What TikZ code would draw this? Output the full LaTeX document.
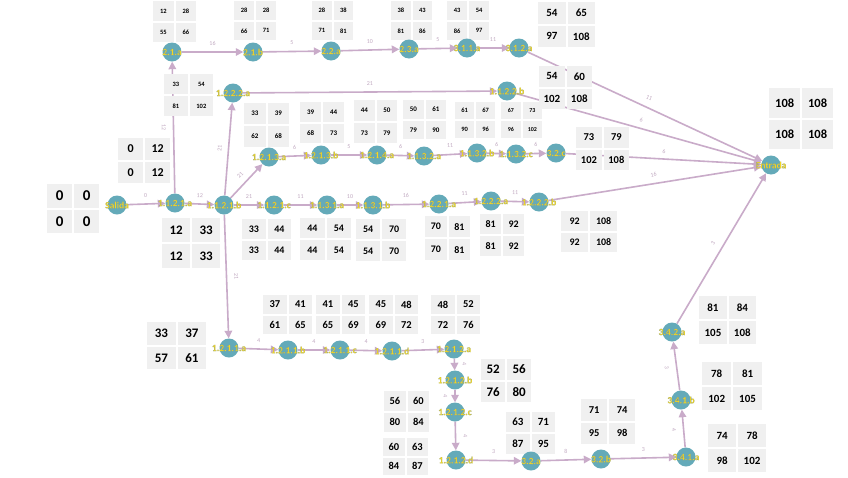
\documentclass[tikz,border=0pt]{standalone}
\usepackage{fontspec}
\setmainfont{Carlito}
\usetikzlibrary{arrows.meta,backgrounds}
\definecolor{teal1}{HTML}{64AAB9}
\definecolor{lbly}{HTML}{F4D824}
\definecolor{edgec}{HTML}{C9ABC9}
\definecolor{elc}{HTML}{C2AAC2}
\definecolor{cellc}{HTML}{F0F0F0}
\newcommand\outl[1]{\special{pdf:literal direct 2 Tr 0.04 w 0.45 0.56 0.58 RG}#1\special{pdf:literal direct 0 Tr}}
\tikzset{
 dot/.style={circle, fill=teal1, minimum size=19pt, inner sep=0pt},
 lbl/.style={text=lbly, font=\fontsize{9.5}{9.5}\selectfont\bfseries, inner sep=0pt},
 cellb/.style={fill=cellc, inner sep=0pt, anchor=north west, text=black},
 arr/.style={draw=edgec, line width=1.6pt, -{Triangle[length=7.5pt,width=7.5pt]}},
 el/.style={text=elc, font=\fontsize{6}{6}\selectfont, inner sep=1pt, sloped},
}
\newcommand\tb[9]{%
 \node[cellb, minimum width=#3pt, minimum height=#4pt, font=\fontsize{#5}{#5}\selectfont\bfseries] (#1a) at (#2) {#6};
 \node[cellb, minimum width=#3pt, minimum height=#4pt, font=\fontsize{#5}{#5}\selectfont\bfseries] (#1b) at ([xshift=1.5pt]#1a.north east) {#7};
 \node[cellb, minimum width=#3pt, minimum height=#4pt, font=\fontsize{#5}{#5}\selectfont\bfseries] (#1c) at ([yshift=-1.5pt]#1a.south west) {#8};
 \node[cellb, minimum width=#3pt, minimum height=#4pt, font=\fontsize{#5}{#5}\selectfont\bfseries] (#1d) at ([xshift=1.5pt]#1c.north east) {#9};
}
\newcommand\ev[3]{%
 \node[dot] (#1) at (#2) {};
 \node[lbl] (#1-l) at (#1.center) {\outl{#3}};
}
\begin{document}
\begin{tikzpicture}[x=1pt,y=-1pt]
\useasboundingbox (0,0) rectangle (848,477);

% tables
\tb{tS}{47,184}{25}{23.5}{15}{0}{0}{0}{0}
\tb{tA}{118,138}{25}{21.5}{12}{0}{12}{0}{12}
\tb{tB}{162,218}{28}{24}{13}{12}{33}{12}{33}
\tb{ta}{153,1}{20.5}{19.5}{6.5}{12}{28}{55}{66}
\tb{tc}{164,74}{23.5}{20}{6.5}{33}{54}{81}{102}
\tb{td}{234,1}{20}{18.5}{6.5}{28}{28}{66}{71}
\tb{te}{312,1}{19.5}{18.5}{6.5}{28}{38}{71}{81}
\tb{tf}{391,1}{19.5}{18.5}{6.5}{38}{43}{81}{86}
\tb{tg}{447,1}{20}{18.5}{6.5}{43}{54}{86}{97}
\tb{th}{538,2}{27.5}{21.5}{11}{54}{65}{97}{108}
\tb{ti}{539,66}{25.5}{20.5}{11}{54}{60}{102}{108}
\tb{tj}{244,103}{21.5}{21}{7}{33}{39}{62}{68}
\tb{tk}{300,102}{21}{19.5}{7}{39}{44}{68}{73}
\tb{tl}{354,100}{20.5}{20.5}{7}{44}{50}{73}{79}
\tb{tm}{403,100}{20.5}{18.5}{7}{50}{61}{79}{90}
\tb{tn}{455,102}{19}{17}{6.5}{61}{67}{90}{96}
\tb{to}{501,102}{19.5}{17}{6}{67}{73}{96}{102}
\tb{tp}{576,127}{25.5}{20.5}{10.5}{73}{79}{102}{108}
\tb{tq}{769,88}{31}{29.5}{12.5}{108}{108}{108}{108}
\tb{tr}{242,219}{23.5}{19.5}{10}{33}{44}{33}{44}
\tb{ts}{300,218}{24.5}{20}{10}{44}{54}{44}{54}
\tb{tt}{356,219}{24}{20}{10}{54}{70}{54}{70}
\tb{tu}{425,216}{21.5}{21}{10}{70}{81}{70}{81}
\tb{tv}{480,214}{21}{20}{10}{81}{92}{81}{92}
\tb{tw}{561,211}{27}{19.5}{10}{92}{108}{92}{108}
\tb{tx}{147,322}{28.5}{22.5}{13}{33}{37}{57}{61}
\tb{ty}{263,295}{23.5}{18.5}{10.5}{37}{41}{61}{65}
\tb{tz}{316,295}{23.5}{18.5}{10.5}{41}{45}{65}{69}
\tb{uA}{369,295}{23.5}{18.5}{10.5}{45}{48}{69}{72}
\tb{uB}{431,295}{23.5}{18.5}{10.5}{48}{52}{72}{76}
\tb{uC}{481,359}{24}{20.5}{13}{52}{56}{76}{80}
\tb{uD}{384,391}{21.5}{19.5}{10.5}{56}{60}{80}{84}
\tb{uE}{383,438}{21.5}{17.5}{10.5}{60}{63}{84}{87}
\tb{uF}{506,412}{23.5}{20}{11}{63}{71}{87}{95}
\tb{uG}{581,399}{26}{21.5}{10.5}{71}{74}{95}{98}
\tb{uH}{699,296}{27.5}{23}{11}{81}{84}{105}{108}
\tb{uI}{702,362}{29}{23}{11}{78}{81}{102}{105}
\tb{uJ}{708,424}{28}{23}{11}{74}{78}{98}{102}

% nodes
\ev{s}{117,205}{Salida}
\ev{n1121a}{175,203}{1.1.2.1.a}
\ev{n21a}{172,52}{2.1.a}
\ev{n21b}{253,52}{2.1.b}
\ev{n22a}{331,51}{2.2.a}
\ev{n23a}{409,49}{2.3.a}
\ev{n311a}{467,48}{3.1.1.a}
\ev{n312a}{519,48}{3.1.2.a}
\ev{n1222t}{233,93}{1.2.2.2.a}
\ev{n1122b}{507,91}{1.1.2.2.b}
\ev{n1213a}{269,157}{1.2.1.3.a}
\ev{n1213b}{321,155}{1.2.1.3.b}
\ev{n1214a}{377,155}{1.2.1.4.a}
\ev{n1132a}{424,156}{1.1.3.2.a}
\ev{n1132b}{477,153}{1.1.3.2.b}
\ev{n1132c}{516,154}{1.1.3.2.c}
\ev{n32c}{556,153}{3.2.c}
\ev{n1121b}{224,205}{1.1.2.1.b}
\ev{n1121c}{274,205}{1.1.2.1.c}
\ev{n1131a}{327,205}{1.1.3.1.a}
\ev{n1131b}{373,205}{1.1.3.1.b}
\ev{n1221a}{439,204}{1.2.2.1.a}
\ev{n1222a}{491,201}{1.2.2.2.a}
\ev{n1222b}{539,202}{1.2.2.2.b}
\ev{ent}{771,165}{Entrada}
\ev{n1211a}{229,348}{1.2.1.1.a}
\ev{n1211b}{288,350}{1.2.1.1.b}
\ev{n1211c}{340,350}{1.2.1.1.c}
\ev{n1211d}{392,351}{1.2.1.1.d}
\ev{n1212a}{454,349}{1.2.1.2.a}
\ev{n1212b}{455,380}{1.2.1.2.b}
\ev{n1212c}{455,412}{1.2.1.2.c}
\ev{n1212d}{456,460}{1.2.1.2.d}
\ev{n32a}{531,461}{3.2.a}
\ev{n32b}{601,459}{3.2.b}
\ev{n341a}{686,457}{3.4.1.a}
\ev{n341b}{681,400}{3.4.1.b}
\ev{n342a}{672,332}{3.4.2.a}

\begin{pgfonlayer}{background}
\fill[white] (0,0) rectangle (848,477);
\draw[arr] (s) -- node[el,above=5pt]{0} (n1121a);
\draw[arr] (n1121a) -- node[el,below=6pt]{12} (n21a);
\draw[arr] (n1121a) -- node[el,above=5pt]{12} (n1121b);
\draw[arr] (n21a) -- node[el,above=5pt]{16} (n21b);
\draw[arr] (n21b) -- node[el,above=5pt]{5} (n22a);
\draw[arr] (n22a) -- node[el,above=5pt]{10} (n23a);
\draw[arr] (n23a) -- node[el,above=5pt]{5} (n311a);
\draw[arr] (n311a) -- node[el,above=5pt]{11} (n312a);
\draw[arr] (n312a) -- node[el,above=6pt]{11} (ent);
\draw[arr] (n1222t) -- node[el,above=5pt]{21} (n1122b);
\draw[arr] (n1122b) -- node[el,above=5pt]{6} (ent);
\draw[arr] (n1121b) -- node[el,above=5pt]{21} (n1222t);
\draw[arr] (n1121b) -- node[el,above=5pt,pos=.5]{21} (n1213a);
\draw[arr] (n1213a) -- node[el,above=5pt]{6} (n1213b);
\draw[arr] (n1213b) -- node[el,above=5pt]{5} (n1214a);
\draw[arr] (n1214a) -- node[el,above=5pt]{6} (n1132a);
\draw[arr] (n1132a) -- node[el,above=5pt]{11} (n1132b);
\draw[arr] (n1132b) -- node[el,above=5pt]{6} (n1132c);
\draw[arr] (n1132c) -- node[el,above=5pt]{6} (n32c);
\draw[arr] (n32c) -- node[el,above=4pt]{6} (ent);
\draw[arr] (n1121b) -- node[el,above=5pt]{21} (n1121c);
\draw[arr] (n1121c) -- node[el,above=5pt]{11} (n1131a);
\draw[arr] (n1131a) -- node[el,above=5pt]{10} (n1131b);
\draw[arr] (n1131b) -- node[el,above=5pt]{16} (n1221a);
\draw[arr] (n1221a) -- node[el,above=5pt]{11} (n1222a);
\draw[arr] (n1222a) -- node[el,above=5pt]{11} (n1222b);
\draw[arr] (n1222b) -- node[el,above=5pt]{16} (ent);
\draw[arr] (n1121b) -- node[el,above=6pt]{21} (n1211a);
\draw[arr] (n1211a) -- node[el,above=5pt]{4} (n1211b);
\draw[arr] (n1211b) -- node[el,above=5pt]{4} (n1211c);
\draw[arr] (n1211c) -- node[el,above=5pt]{4} (n1211d);
\draw[arr] (n1211d) -- node[el,above=5pt]{3} (n1212a);
\draw[arr] (n1212a) -- node[el,above=6pt]{4} (n1212b);
\draw[arr] (n1212b) -- node[el,below=6pt]{4} (n1212c);
\draw[arr] (n1212c) -- node[el,above=6pt]{4} (n1212d);
\draw[arr] (n1212d) -- node[el,above=5pt]{3} (n32a);
\draw[arr] (n32a) -- node[el,above=5pt]{8} (n32b);
\draw[arr] (n32b) -- node[el,above=5pt]{3} (n341a);
\draw[arr] (n341a) -- node[el,below=6pt]{4} (n341b);
\draw[arr] (n341b) -- node[el,below=6pt]{3} (n342a);
\draw[arr] (n342a) -- node[el,above=6pt]{3} (ent);
\end{pgfonlayer}
\end{tikzpicture}
\end{document}
